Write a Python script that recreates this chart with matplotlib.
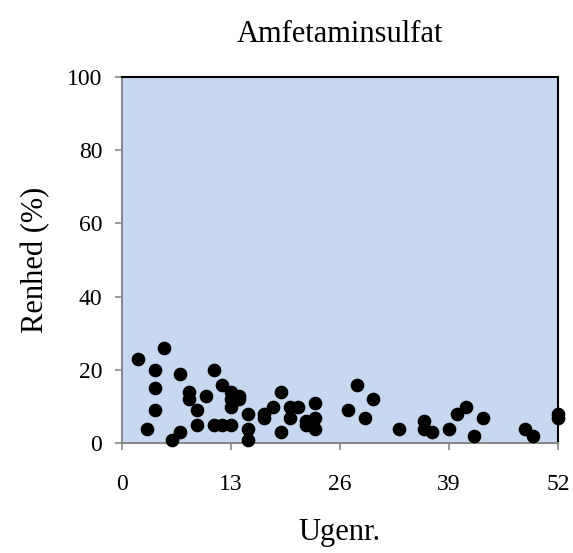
"""Amfetaminsulfat purity per week"""

import matplotlib
matplotlib.use("Agg")
import matplotlib.pyplot as plt

plt.rcParams["font.family"] = ["Liberation Serif", "DejaVu Serif"]

week = [2, 5, 4, 4, 4, 3, 6, 7, 7, 8, 8, 9, 9, 10, 11, 11, 12, 12, 13,
        13, 14, 13, 14, 13, 15, 15, 15, 17, 17, 18, 19, 19, 20, 20, 21,
        22, 22, 23, 23, 23, 27, 28, 29, 30, 33, 36, 36, 37, 39, 40, 41,
        42, 43, 48, 49, 52, 52]
purity = [23, 26, 20, 15, 9, 4, 1, 3, 19, 14, 12, 9, 5, 13, 20, 5, 5, 16, 5,
          14, 13, 12, 12, 10, 8, 4, 1, 7, 8, 10, 14, 3, 10, 7, 10,
          6, 5, 11, 7, 4, 9, 16, 7, 12, 4, 6, 4, 3, 4, 8, 10,
          2, 7, 4, 2, 8, 7]

x_ticks = [0, 13, 26, 39, 52]
y_ticks = [0, 20, 40, 60, 80, 100]

GRAY = "#898989"

fig = plt.figure(figsize=(5.73, 5.53), dpi=100)
ax = fig.add_axes([0.2124, 0.1984, 0.7616, 0.6626])
ax.set_facecolor("#C6D9F1")

ax.scatter(week, purity, s=78, color="black", zorder=3, clip_on=False)

ax.set_xlim(0, 52)
ax.set_ylim(0, 100)
ax.set_xticks(x_ticks)
ax.set_yticks(y_ticks)

for side in ("top", "right"):
    ax.spines[side].set_color("black")
    ax.spines[side].set_linewidth(1.5)
for side in ("left", "bottom"):
    ax.spines[side].set_color(GRAY)
    ax.spines[side].set_linewidth(1.5)

ax.tick_params(axis="both", direction="out", length=5, width=1.2, color=GRAY,
               labelsize=17)
ax.tick_params(axis="y", pad=9)
ax.tick_params(axis="x", pad=17)

ax.set_title("Amfetaminsulfat", fontsize=22, pad=25)
ax.set_xlabel("Ugenr.", fontsize=22, labelpad=17)
ax.set_ylabel("Renhed (%)", fontsize=22, labelpad=12)

fig.savefig("out.png", dpi=100)
plt.close(fig)
